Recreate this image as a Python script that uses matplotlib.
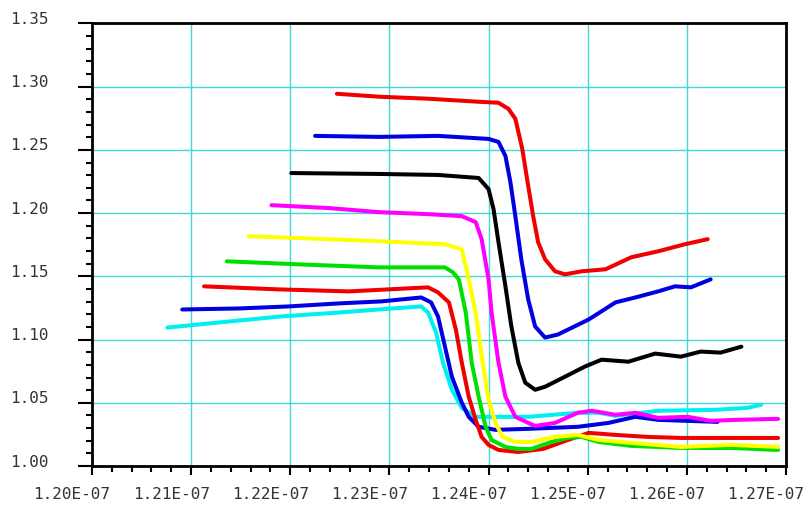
import numpy as np
import matplotlib
matplotlib.use('Agg')
import matplotlib.pyplot as plt
from matplotlib.ticker import FuncFormatter, MultipleLocator
from matplotlib.transforms import ScaledTranslation

# x values are in ns, y values are the plotted quantity
red1_x = [122.47, 122.89, 123.39, 123.90, 124.10, 124.20, 124.27, 124.34, 124.40, 124.45,
          124.50, 124.57, 124.67, 124.77, 124.94, 125.18, 125.44, 125.71, 125.98, 126.21]
red1_y = [1.2944, 1.2921, 1.2905, 1.2881, 1.2873, 1.2825, 1.2746, 1.2508, 1.2214, 1.1976,
          1.1770, 1.1635, 1.1540, 1.1516, 1.1540, 1.1556, 1.1651, 1.1698, 1.1754, 1.1794]

blue1_x = [122.25, 122.89, 123.49, 124.00, 124.10, 124.17, 124.22, 124.27, 124.33, 124.40,
           124.47, 124.57, 124.70, 125.01, 125.28, 125.48, 125.71, 125.88, 126.04, 126.24]
blue1_y = [1.2611, 1.2603, 1.2611, 1.2587, 1.2563, 1.2452, 1.2246, 1.1976, 1.1635, 1.1317,
           1.1103, 1.1016, 1.1040, 1.1159, 1.1294, 1.1333, 1.1381, 1.1421, 1.1413, 1.1476]

black_x = [122.01, 122.89, 123.49, 123.90, 124.00, 124.05, 124.10, 124.17, 124.23, 124.30,
           124.37, 124.47, 124.57, 124.77, 124.97, 125.14, 125.41, 125.68, 125.94, 126.14,
           126.34, 126.55]
black_y = [1.2317, 1.2310, 1.2302, 1.2278, 1.2190, 1.2032, 1.1770, 1.1421, 1.1103, 1.0817,
           1.0659, 1.0603, 1.0627, 1.0706, 1.0786, 1.0841, 1.0825, 1.0889, 1.0865, 1.0905,
           1.0897, 1.0944]

magenta_x = [121.81, 122.39, 122.89, 123.39, 123.73, 123.87, 123.93, 124.00, 124.03, 124.10,
             124.17, 124.27, 124.40, 124.47, 124.67, 124.90, 125.04, 125.28, 125.48, 125.71,
             126.01, 126.24, 126.49, 126.92]
magenta_y = [1.2063, 1.2040, 1.2008, 1.1992, 1.1976, 1.1929, 1.1794, 1.1476, 1.1214, 1.0817,
             1.0548, 1.0389, 1.0341, 1.0317, 1.0341, 1.0421, 1.0437, 1.0405, 1.0421, 1.0381,
             1.0389, 1.0357, 1.0365, 1.0373]

yellow_x = [121.58, 122.39, 122.89, 123.56, 123.73, 123.80, 123.87, 123.94, 124.00, 124.07,
            124.14, 124.27, 124.43, 124.67, 124.90, 125.11, 125.44, 125.94, 126.45, 126.92]
yellow_y = [1.1817, 1.1794, 1.1778, 1.1754, 1.1714, 1.1476, 1.1214, 1.0817, 1.0524, 1.0341,
            1.0230, 1.0190, 1.0190, 1.0230, 1.0246, 1.0206, 1.0183, 1.0151, 1.0167, 1.0151]

green_x = [121.36, 122.08, 122.89, 123.56, 123.64, 123.70, 123.77, 123.83, 123.90, 123.97,
           124.03, 124.17, 124.30, 124.43, 124.63, 124.80, 124.94, 125.11, 125.44, 125.94,
           126.45, 126.92]
green_y = [1.1619, 1.1595, 1.1571, 1.1571, 1.1532, 1.1476, 1.1214, 1.0817, 1.0548, 1.0310,
           1.0206, 1.0151, 1.0135, 1.0135, 1.0190, 1.0222, 1.0230, 1.0190, 1.0159, 1.0143,
           1.0143, 1.0127]

red2_x = [121.13, 121.88, 122.59, 123.39, 123.49, 123.60, 123.67, 123.73, 123.80, 123.87,
          123.93, 124.00, 124.10, 124.30, 124.55, 124.80, 125.01, 125.28, 125.61, 125.94,
          126.45, 126.92]
red2_y = [1.1421, 1.1397, 1.1381, 1.1413, 1.1373, 1.1294, 1.1079, 1.0817, 1.0548, 1.0365,
          1.0230, 1.0167, 1.0127, 1.0111, 1.0135, 1.0206, 1.0262, 1.0246, 1.0230, 1.0222,
          1.0222, 1.0222]

blue2_x = [120.91, 121.48, 121.98, 122.49, 122.92, 123.32, 123.42, 123.49, 123.56, 123.63,
           123.73, 123.80, 123.90, 124.07, 124.40, 124.90, 125.21, 125.48, 125.71, 126.01, 126.31]
blue2_y = [1.1238, 1.1246, 1.1262, 1.1286, 1.1302, 1.1333, 1.1294, 1.1183, 1.0944, 1.0706,
           1.0500, 1.0389, 1.0310, 1.0286, 1.0294, 1.0310, 1.0341, 1.0389, 1.0365, 1.0357, 1.0349]

cyan_x = [120.76, 121.38, 121.91, 122.49, 122.89, 123.32, 123.39, 123.47, 123.54, 123.63,
          123.73, 123.87, 124.40, 124.90, 125.11, 125.28, 125.71, 126.28, 126.61, 126.75]
cyan_y = [1.1095, 1.1143, 1.1183, 1.1214, 1.1238, 1.1262, 1.1214, 1.1056, 1.0817, 1.0603,
          1.0460, 1.0389, 1.0389, 1.0421, 1.0421, 1.0397, 1.0437, 1.0444, 1.0460, 1.0484]

series = [
    (cyan_x, cyan_y, '#00f0f0'),
    (blue2_x, blue2_y, '#0000e0'),
    (red2_x, red2_y, '#f00000'),
    (green_x, green_y, '#00e000'),
    (yellow_x, yellow_y, '#ffff00'),
    (magenta_x, magenta_y, '#ff00ff'),
    (black_x, black_y, '#000000'),
    (blue1_x, blue1_y, '#0000e0'),
    (red1_x, red1_y, '#f00000'),
]

fig = plt.figure(figsize=(8.05, 5.10), dpi=100)
ax = fig.add_axes([0.1143, 0.0843, 0.8621, 0.8677])

for xs, ys, c in series:
    ax.plot(np.array(xs) * 1e-9, ys, color=c, lw=2.9, solid_capstyle='round',
            solid_joinstyle='round', zorder=3)

ax.set_xlim(1.20e-7, 1.27e-7)
ax.set_ylim(1.00, 1.35)
ax.set_xticks(np.arange(120, 128) * 1e-9)
ax.set_yticks(np.arange(1.00, 1.351, 0.05))
ax.xaxis.set_minor_locator(MultipleLocator(0.2e-9))
ax.yaxis.set_minor_locator(MultipleLocator(0.01))
ax.xaxis.set_major_formatter(FuncFormatter(lambda v, p: '%.2E' % v))
ax.yaxis.set_major_formatter(FuncFormatter(lambda v, p: '%.2f' % v))

ax.grid(True, which='major', color='#40d8d8', lw=1.0, zorder=1)
for s in ax.spines.values():
    s.set_linewidth(2.0)
    s.set_zorder(4)

ax.tick_params(axis='y', which='major', direction='out', length=10, width=1.5,
               pad=21, labelsize=11.5, labelcolor='#333333')
ax.tick_params(axis='y', which='minor', direction='out', length=4.5, width=1.5)
ax.tick_params(axis='x', which='major', direction='out', length=6.5, width=1.5,
               pad=8, labelsize=11.5, labelcolor='#333333')
ax.tick_params(axis='x', which='minor', direction='out', length=4, width=1.5)
for lab in ax.get_xticklabels() + ax.get_yticklabels():
    lab.set_family('DejaVu Sans Mono')

fig.canvas.draw()
dx = ScaledTranslation(-0.20, 0, fig.dpi_scale_trans)
dy = ScaledTranslation(0, 0.065, fig.dpi_scale_trans)
for lab in ax.get_xticklabels():
    lab.set_transform(lab.get_transform() + dx)
for lab in ax.get_yticklabels():
    lab.set_transform(lab.get_transform() + dy)

fig.savefig('out.png', dpi=100)
